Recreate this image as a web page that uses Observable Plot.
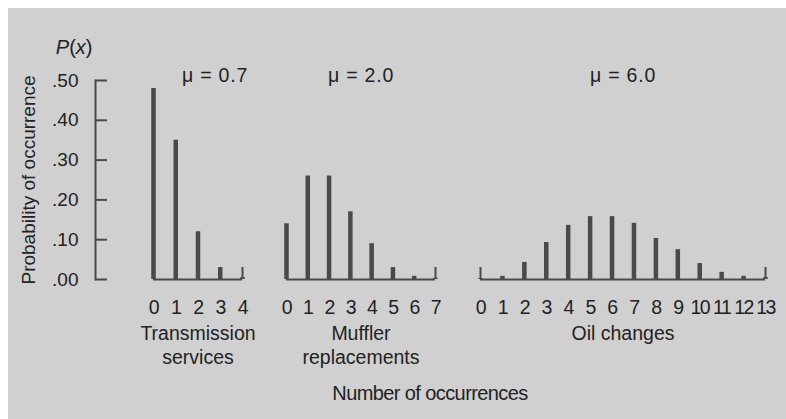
<!DOCTYPE html>
<html>
<head>
<meta charset="utf-8">
<script src="https://cdn.jsdelivr.net/npm/d3@7"></script>
<script src="https://cdn.jsdelivr.net/npm/@observablehq/plot@0.6"></script>
<style>
  html, body { margin: 0; padding: 0; background: #ffffff; }
  #fig { position: relative; width: 786px; height: 419px; overflow: hidden; background: #ffffff; }
  #paper { position: absolute; left: 8px; top: 8px; right: 0; bottom: 0; background: #d0d0d0; }
  #fig svg { position: absolute; left: 0; top: 0; }
  #xtitle { position: absolute; left: 300px; width: 260px; top: 380px; text-align: center;
            font-family: 'Liberation Sans', Arial, sans-serif; letter-spacing: -0.6px;
            font-size: 20px; color: #222222; line-height: 26px; }
  g[aria-label="x-axis tick label"] text { letter-spacing: -1.5px; }
  g[aria-label="panel-label"] text { letter-spacing: -0.7px; }
  g[aria-label="y-label"] text { letter-spacing: 0.4px; }
</style>
</head>
<body>
<div id="fig"><div id="paper"></div><div id="xtitle">Number of occurrences</div></div>
<script>
// ---- data ----
const yTicks = [0, 0.1, 0.2, 0.3, 0.4, 0.5];
const yTickLabels = [".00", ".10", ".20", ".30", ".40", ".50"];
const yLabel = "Probability of occurrence";
const yAxisTitle = "P(x)";

const panelTitles = ["\u03bc = 0.7", "\u03bc = 2.0", "\u03bc = 6.0"];
const panelLabels = ["Transmission\nservices", "Muffler\nreplacements", "Oil changes"];

const transmissionK = [0, 1, 2, 3, 4];
const transmissionP = [0.48, 0.35, 0.12, 0.03, 0.005];

const mufflerK = [0, 1, 2, 3, 4, 5, 6, 7];
const mufflerP = [0.14, 0.26, 0.26, 0.17, 0.09, 0.03, 0.008, 0.003];

const oilK = [0, 1, 2, 3, 4, 5, 6, 7, 8, 9, 10, 11, 12, 13];
const oilP = [0.0025, 0.008, 0.043, 0.093, 0.136, 0.158, 0.158, 0.141, 0.103, 0.075, 0.04, 0.018, 0.008, 0.005];

// ---- layout / style ----
const W = 786, H = 320, MT = 80, MB = 41;
const REG = "'Liberation Sans', Arial, sans-serif";
const INK = "#4a4a4a";
const TEXT = "#222222";
const fig = document.getElementById("fig");

const baseStyle = {background: "transparent", color: TEXT, fontFamily: REG, fontSize: "19px", overflow: "visible"};

// y axis (own little plot)
const yAxisPlot = Plot.plot({
  width: 107, height: H, marginLeft: 95, marginRight: 0, marginTop: MT, marginBottom: MB,
  style: baseStyle,
  y: {domain: [0, 0.5]},
  marks: [
    Plot.ruleY(yTicks, {stroke: INK, strokeWidth: 2}),
    Plot.frame({anchor: "left", stroke: INK, strokeWidth: 2}),
    Plot.axisY({ticks: yTicks, tickFormat: d => yTickLabels[yTicks.indexOf(d)], tickSize: 0, tickPadding: 17, label: null, fontSize: 19}),
    Plot.text([yLabel], {frameAnchor: "left", dx: -67, rotate: -90, lineAnchor: "middle", textAnchor: "middle", fontSize: 19, fill: TEXT, ariaLabel: "y-label"}),
    Plot.text([yAxisTitle], {frameAnchor: "top-left", dx: -3, dy: -33, textAnchor: "end", lineAnchor: "middle", fontSize: 20, fill: TEXT})
  ]
});
fig.appendChild(yAxisPlot);
// italic P and x, upright parentheses
yAxisPlot.querySelectorAll("text").forEach(t => {
  if (t.textContent === yAxisTitle) {
    t.textContent = "";
    const parts = [["P", true], ["(", false], ["x", true], [")", false]];
    for (const [s, it] of parts) {
      const ts = document.createElementNS("http://www.w3.org/2000/svg", "tspan");
      ts.textContent = s;
      if (it) ts.setAttribute("font-style", "italic");
      t.appendChild(ts);
    }
  }
});

function panel(K, P, x0, x1, title, label, titleDx) {
  const n = K[K.length - 1];
  const rows = K.map((k, i) => ({k, p: P[i]}));
  const svg = Plot.plot({
    width: W, height: H, marginLeft: x0, marginRight: W - x1, marginTop: MT, marginBottom: MB,
    style: baseStyle,
    x: {domain: [0, n]},
    y: {domain: [0, 0.5], axis: null},
    marks: [
      Plot.ruleY([0], {stroke: INK, strokeWidth: 2}),
      Plot.ruleX([0, n], {x: d => d, y1: 0, y2: 0, insetTop: -12, stroke: INK, strokeWidth: 2}),
      Plot.ruleX(rows, {x: "k", y: "p", stroke: INK, strokeWidth: 4.5}),
      Plot.axisX({ticks: K, tickFormat: d => String(d), tickSize: 0, tickPadding: 21, label: null, fontSize: 19.5}),
      Plot.text([title], {frameAnchor: "top", dx: titleDx, dy: -5, lineAnchor: "middle", fontSize: 19.5, fill: TEXT}),
      Plot.text([label], {frameAnchor: "bottom", dy: 44, lineAnchor: "top", lineHeight: 1.2, fontSize: 19.5, fill: TEXT, ariaLabel: "panel-label"})
    ]
  });
  // widen spacing of the μ title like the reference
  svg.querySelectorAll("text").forEach(t => {
    if (t.textContent === title) t.setAttribute("letter-spacing", "0.8px");
  });
  return svg;
}

fig.appendChild(panel(transmissionK, transmissionP, 153, 242, panelTitles[0], panelLabels[0], 17));
fig.appendChild(panel(mufflerK, mufflerP, 286, 435, panelTitles[1], panelLabels[1], 0));
fig.appendChild(panel(oilK, oilP, 480, 765, panelTitles[2], panelLabels[2], 0));
</script>
</body>
</html>
